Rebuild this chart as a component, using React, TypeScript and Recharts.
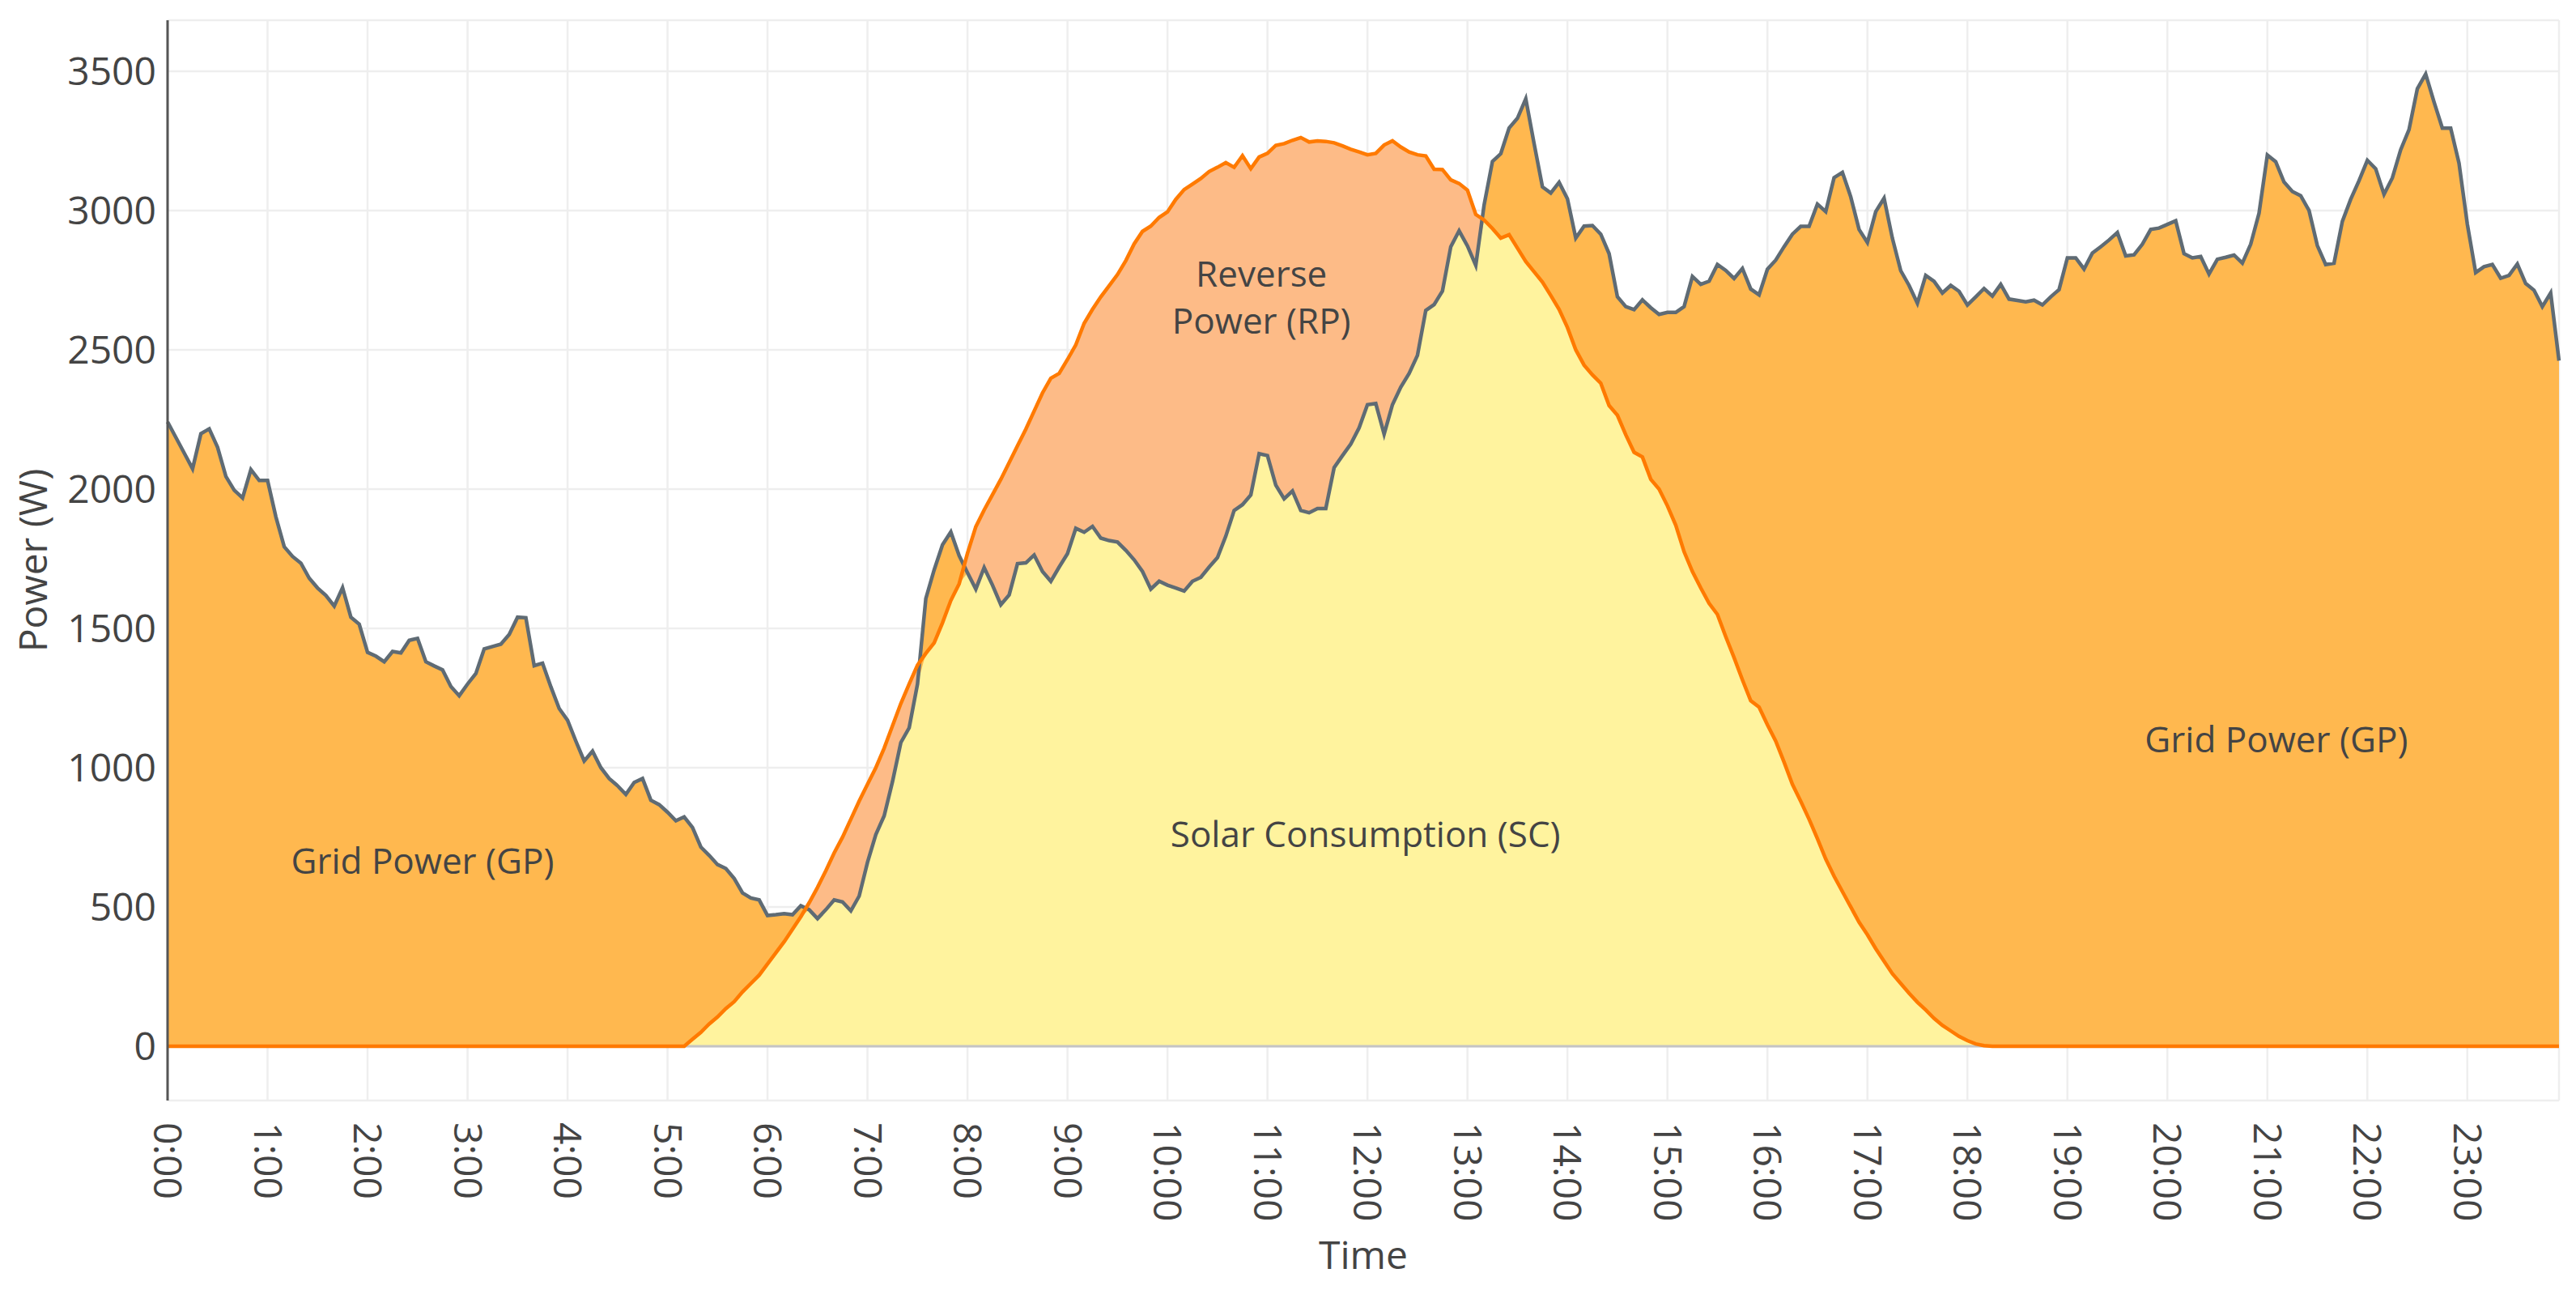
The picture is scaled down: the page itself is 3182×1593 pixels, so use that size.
import React from 'react';
import {
  ComposedChart, Area, Line, XAxis, YAxis, CartesianGrid, ReferenceLine, ReferenceDot,
} from 'recharts';

// household load (W), one row per hour, 5-minute samples
const LOAD_W = [
  2241, 2185, 2129, 2073, 2199, 2216, 2150, 2045, 1996, 1968, 2070, 2031,
  2031, 1900, 1793, 1758, 1734, 1680, 1645, 1618, 1580, 1646, 1540, 1515,
  1414, 1400, 1380, 1417, 1412, 1457, 1464, 1380, 1365, 1351, 1291, 1258,
  1300, 1338, 1426, 1435, 1443, 1478, 1540, 1538, 1366, 1375, 1290, 1212,
  1170, 1095, 1024, 1059, 1000, 961, 935, 904, 947, 961, 883, 867,
  840, 809, 823, 785, 715, 685, 652, 638, 602, 550, 532, 525,
  469, 472, 476, 472, 504, 490, 458, 490, 525, 518, 486, 539,
  660, 760, 827, 950, 1090, 1143, 1300, 1607, 1710, 1800, 1846, 1761,
  1700, 1641, 1718, 1655, 1585, 1620, 1732, 1735, 1763, 1704, 1669, 1720,
  1768, 1859, 1845, 1866, 1824, 1815, 1810, 1780, 1746, 1704, 1641, 1669,
  1655, 1645, 1634, 1669, 1683, 1720, 1754, 1831, 1923, 1944, 1979, 2127,
  2120, 2014, 1965, 1993, 1923, 1915, 1930, 1930, 2077, 2120, 2162, 2220,
  2303, 2307, 2197, 2303, 2366, 2415, 2480, 2641, 2662, 2711, 2870, 2927,
  2873, 2803, 3020, 3176, 3204, 3296, 3331, 3401, 3240, 3085, 3063, 3101,
  3042, 2901, 2944, 2946, 2915, 2845, 2690, 2655, 2644, 2679, 2651, 2627,
  2634, 2634, 2655, 2763, 2735, 2746, 2806, 2785, 2756, 2792, 2718, 2697,
  2789, 2822, 2870, 2915, 2943, 2943, 3023, 2996, 3118, 3137, 3049, 2932,
  2885, 2996, 3044, 2900, 2784, 2731, 2667, 2767, 2746, 2704, 2731, 2710,
  2661, 2690, 2720, 2693, 2735, 2682, 2677, 2672, 2678, 2661, 2690, 2716,
  2830, 2830, 2790, 2847, 2870, 2894, 2921, 2837, 2841, 2879, 2932, 2937,
  2950, 2963, 2845, 2830, 2835, 2772, 2825, 2832, 2840, 2811, 2879, 2990,
  3199, 3175, 3102, 3068, 3053, 3000, 2874, 2806, 2811, 2961, 3040, 3107,
  3180, 3150, 3058, 3117, 3218, 3290, 3437, 3490, 3390, 3296, 3296, 3170,
  2951, 2777, 2798, 2806, 2757, 2767, 2808, 2738, 2714, 2655, 2704, 2461,
];

// PV production (W), same sampling
const SOLAR_W = [
  0, 0, 0, 0, 0, 0, 0, 0, 0, 0, 0, 0,
  0, 0, 0, 0, 0, 0, 0, 0, 0, 0, 0, 0,
  0, 0, 0, 0, 0, 0, 0, 0, 0, 0, 0, 0,
  0, 0, 0, 0, 0, 0, 0, 0, 0, 0, 0, 0,
  0, 0, 0, 0, 0, 0, 0, 0, 0, 0, 0, 0,
  0, 0, 0, 25, 50, 80, 105, 135, 160, 195, 225, 255,
  295, 335, 375, 420, 465, 515, 570, 630, 694, 750, 815, 880,
  940, 1000, 1070, 1150, 1230, 1300, 1368, 1410, 1448, 1520, 1600, 1660,
  1770, 1865, 1925, 1980, 2035, 2095, 2155, 2215, 2280, 2345, 2398, 2415,
  2465, 2518, 2595, 2645, 2690, 2730, 2770, 2820, 2880, 2925, 2944, 2975,
  2995, 3040, 3075, 3095, 3115, 3140, 3155, 3172, 3155, 3197, 3150, 3192,
  3205, 3234, 3240, 3252, 3262, 3246, 3250, 3248, 3243, 3232, 3220, 3210,
  3200, 3205, 3235, 3250, 3228, 3210, 3200, 3196, 3148, 3147, 3110, 3097,
  3073, 2986, 2966, 2935, 2901, 2913, 2865, 2817, 2780, 2743, 2695, 2645,
  2580, 2500, 2445, 2410, 2380, 2300, 2265, 2195, 2132, 2115, 2035, 2000,
  1940, 1870, 1775, 1704, 1645, 1590, 1550, 1470, 1395, 1315, 1240, 1217,
  1154, 1095, 1020, 940, 879, 815, 745, 672, 610, 555, 500, 445,
  400, 350, 305, 260, 225, 190, 158, 130, 100, 75, 55, 35,
  20, 8, 2, 0, 0, 0, 0, 0, 0, 0, 0, 0,
  0, 0, 0, 0, 0, 0, 0, 0, 0, 0, 0, 0,
  0, 0, 0, 0, 0, 0, 0, 0, 0, 0, 0, 0,
  0, 0, 0, 0, 0, 0, 0, 0, 0, 0, 0, 0,
  0, 0, 0, 0, 0, 0, 0, 0, 0, 0, 0, 0,
  0, 0, 0, 0, 0, 0, 0, 0, 0, 0, 0, 0,
];

const HOUR_TICKS = [0, 1, 2, 3, 4, 5, 6, 7, 8, 9, 10, 11, 12, 13, 14, 15, 16, 17, 18, 19, 20, 21, 22, 23];
const POWER_TICKS = [0, 500, 1000, 1500, 2000, 2500, 3000, 3500];

// area labels, in hours / watts
const AREA_LABELS = [
  { text: 'Grid Power (GP)', hour: 2.55, watts: 663 },
  { text: 'Solar Consumption (SC)', hour: 11.98, watts: 759 },
  { text: 'Reverse', hour: 10.94, watts: 2773 },
  { text: 'Power (RP)', hour: 10.94, watts: 2602 },
  { text: 'Grid Power (GP)', hour: 21.09, watts: 1099 },
];

const data = LOAD_W.map((load, i) => ({
  t: i / 12,
  load,
  solar: SOLAR_W[i],
  sc: Math.min(load, SOLAR_W[i]),
}));

const FONT = '"Open Sans", sans-serif';

function TimeTick(props: any) {
  const { x, y, payload } = props;
  const ty = y + 27;
  return (
    <text
      x={x}
      y={ty}
      dy="0.35em"
      textAnchor="start"
      transform={`rotate(90, ${x}, ${ty})`}
      fontSize={48}
      fill="#444"
      fontFamily={FONT}
    >
      {`${payload.value}:00`}
    </text>
  );
}

export default function App() {
  return (
    <div style={{ fontFamily: FONT }}>
      <ComposedChart
        width={3174}
        height={1585}
        data={data}
        margin={{ top: 17, right: 21, bottom: 8, left: 0 }}
        style={{ fontFamily: FONT }}
      >
        <CartesianGrid stroke="#eeeeee" strokeWidth={2.5} />
        <XAxis
          dataKey="t"
          type="number"
          domain={[0, 287 / 12]}
          ticks={HOUR_TICKS}
          interval={0}
          tick={<TimeTick />}
          axisLine={false}
          tickLine={false}
          tickSize={0}
          tickMargin={0}
          height={226}
          label={{ value: 'Time', position: 'insideBottom', offset: 18, fontSize: 48, fill: '#444' }}
        />
        <YAxis
          type="number"
          domain={[-195, 3683]}
          ticks={POWER_TICKS}
          allowDataOverflow
          width={199}
          axisLine={{ stroke: '#555', strokeWidth: 3 }}
          tickLine={false}
          tickSize={0}
          tickMargin={14}
          tick={{ fontSize: 48, fill: '#444' }}
          label={{
            value: 'Power (W)', angle: -90, position: 'insideLeft', offset: 33,
            fontSize: 48, fill: '#444', style: { textAnchor: 'middle' },
          }}
        />
        <ReferenceLine y={0} stroke="#c4c4c4" strokeWidth={3} />
        <Area type="linear" dataKey="solar" fill="#fdbb87" fillOpacity={1} stroke="none" isAnimationActive={false} />
        <Area type="linear" dataKey="load" fill="#ffb84f" fillOpacity={1} stroke="none" isAnimationActive={false} />
        <Area type="linear" dataKey="sc" fill="#fff39e" fillOpacity={1} stroke="none" isAnimationActive={false} />
        <Line type="linear" dataKey="load" stroke="#5f6b74" strokeWidth={4.5} dot={false} activeDot={false} isAnimationActive={false} />
        <Line type="linear" dataKey="solar" stroke="#ff7a00" strokeWidth={4.5} dot={false} activeDot={false} isAnimationActive={false} />
        {AREA_LABELS.map((a, i) => (
          <ReferenceDot
            key={`lbl-${i}`}
            x={a.hour}
            y={a.watts}
            r={0}
            fill="none"
            stroke="none"
            label={{ value: a.text, position: 'center', fontSize: 44, fill: '#444' }}
          />
        ))}
      </ComposedChart>
    </div>
  );
}
